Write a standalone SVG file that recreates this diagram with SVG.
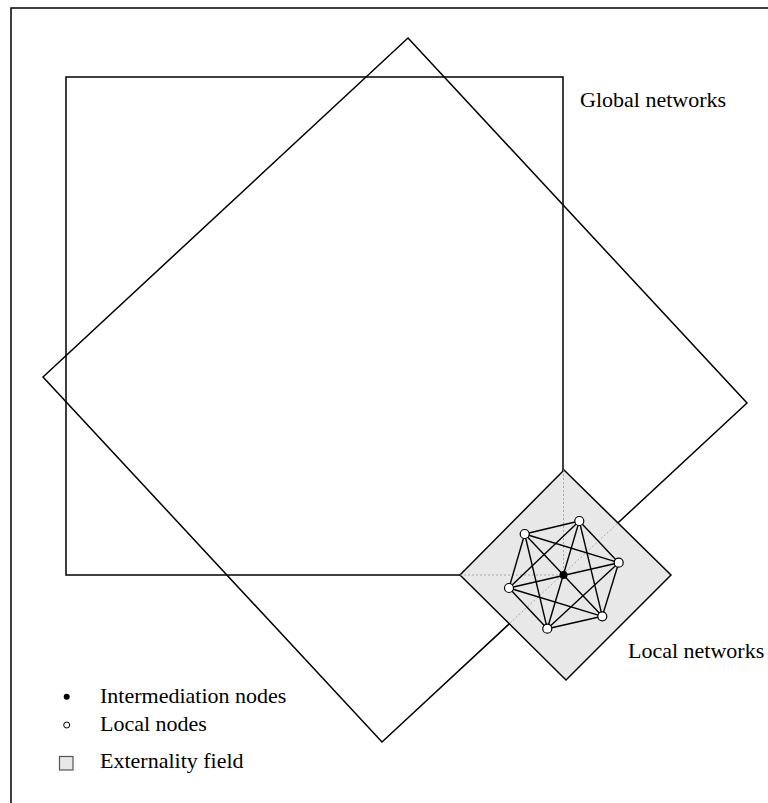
<svg xmlns="http://www.w3.org/2000/svg" width="768" height="803" viewBox="0 0 768 803">
<style>
.ln{fill:none;stroke:#000;stroke-width:1.5}
.dot{fill:none;stroke:#999;stroke-width:0.8;stroke-dasharray:2,2}
.edge{stroke:#000;stroke-width:1.4}
.wn{fill:#fff;stroke:#000;stroke-width:1.2}
.bn{fill:#000}
text{font-family:"Liberation Serif","Times New Roman",serif;font-size:22px;fill:#000}
</style>
<rect width="768" height="803" fill="#fff"/>
<path class="ln" d="M11,803 V8 H768"/>
<g id="global-square">
<rect class="ln" x="66" y="77" width="497" height="498"/>
</g>
<g id="global-diamond">
<polygon class="ln" points="408,38 747,403 382,742 43,377"/>
</g>
<g id="local-network">
<polygon points="564,470 671,575 566,680 460,575" fill="#e8e8e8" stroke="#000" stroke-width="1.5"/>
<line class="dot" x1="563.5" y1="470" x2="563.5" y2="575"/>
<line class="dot" x1="460" y1="575" x2="563.5" y2="575"/>
<line class="dot" x1="510" y1="623" x2="618" y2="523"/>
</g>
<g id="connectors">
<g class="edge">
<line x1="579.3" y1="521" x2="524.7" y2="534"/>
<line x1="579.3" y1="521" x2="618.7" y2="562.7"/>
<line x1="579.3" y1="521" x2="509" y2="588"/>
<line x1="579.3" y1="521" x2="602.3" y2="616.3"/>
<line x1="579.3" y1="521" x2="547.3" y2="628.7"/>
<line x1="524.7" y1="534" x2="618.7" y2="562.7"/>
<line x1="524.7" y1="534" x2="509" y2="588"/>
<line x1="524.7" y1="534" x2="602.3" y2="616.3"/>
<line x1="524.7" y1="534" x2="547.3" y2="628.7"/>
<line x1="618.7" y1="562.7" x2="509" y2="588"/>
<line x1="618.7" y1="562.7" x2="602.3" y2="616.3"/>
<line x1="618.7" y1="562.7" x2="547.3" y2="628.7"/>
<line x1="509" y1="588" x2="602.3" y2="616.3"/>
<line x1="509" y1="588" x2="547.3" y2="628.7"/>
<line x1="602.3" y1="616.3" x2="547.3" y2="628.7"/>
</g>
</g>
<g id="n1"><circle class="wn" cx="579.3" cy="521" r="4.5"/></g>
<g id="n2"><circle class="wn" cx="524.7" cy="534" r="4.5"/></g>
<g id="n3"><circle class="wn" cx="618.7" cy="562.7" r="4.5"/></g>
<g id="n4"><circle class="wn" cx="509" cy="588" r="4.5"/></g>
<g id="n5"><circle class="wn" cx="602.3" cy="616.3" r="4.5"/></g>
<g id="n6"><circle class="wn" cx="547.3" cy="628.7" r="4.5"/></g>
<g id="center"><circle class="bn" cx="563.5" cy="575" r="4"/></g>
<g id="labels">
<text x="580" y="107">Global networks</text>
<text x="628" y="658">Local networks</text>
</g>
<g id="legend">
<circle class="bn" cx="66.7" cy="696.7" r="3"/>
<text x="100" y="703">Intermediation nodes</text>
<circle cx="66.7" cy="725" r="3" fill="#fff" stroke="#000" stroke-width="1"/>
<text x="100" y="731">Local nodes</text>
<rect x="59.5" y="756.5" width="13.5" height="13.5" fill="#e8e8e8" stroke="#555" stroke-width="1.2"/>
<text x="100" y="768">Externality field</text>
</g>
</svg>
